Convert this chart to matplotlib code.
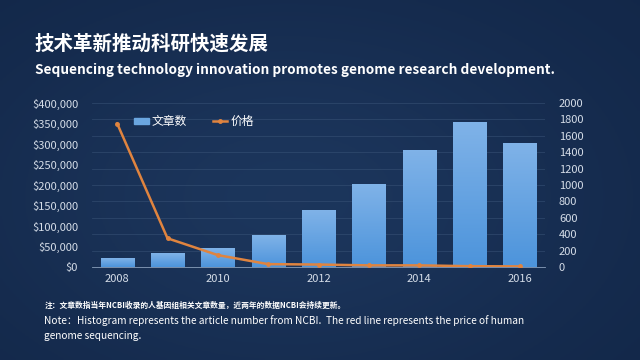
import numpy as np
import matplotlib.pyplot as plt
from matplotlib.ticker import FuncFormatter
from matplotlib.patches import Patch

plt.rcParams['font.family'] = ['Noto Sans CJK SC', 'DejaVu Sans']

years = ['2008', '2009', '2010', '2011', '2012', '2013', '2014', '2015', '2016']
articles = [105, 160, 220, 390, 695, 1010, 1420, 1760, 1510]
prices = [350000, 70000, 29000, 7000, 6000, 4000, 4000, 2000, 1500]
year_ticks = ['2008', '', '2010', '', '2012', '', '2014', '', '2016']

fig = plt.figure(figsize=(6.4, 3.6), dpi=100)

# background gradient
bg = fig.add_axes([0, 0, 1, 1])
gx, gy = np.meshgrid(np.linspace(0, 1, 200), np.linspace(0, 1, 120))
glow = np.exp(-((gx - 0.45) ** 2 / 0.25 + (gy - 0.55) ** 2 / 0.3))
img = np.zeros((120, 200, 3))
img[..., 0] = 0.07 + 0.04 * glow
img[..., 1] = 0.15 + 0.06 * glow
img[..., 2] = 0.28 + 0.08 * glow
bg.imshow(img, aspect='auto', extent=[0, 1, 0, 1])
bg.axis('off')

x = np.arange(len(years))

ax = fig.add_axes([92 / 640, 1 - 267 / 360, 453 / 640, 164 / 360])
ax2 = ax.twinx()
ax.set_zorder(ax2.get_zorder() + 1)
ax.patch.set_visible(False)

# bars with vertical gradient
for xi, v in zip(x, articles):
    grad = np.linspace(0, 1, 100).reshape(-1, 1)
    cimg = np.zeros((100, 1, 3))
    cimg[..., 0] = 0.30 + 0.20 * grad
    cimg[..., 1] = 0.58 + 0.12 * grad
    cimg[..., 2] = 0.86 + 0.05 * grad
    ax2.imshow(cimg, aspect='auto', origin='lower',
               extent=[xi - 0.33, xi + 0.33, 0, v], zorder=2)
bar_handle = ax2.bar(x, articles, width=0.66, color='none', zorder=3)

line_handle, = ax.plot(x, prices, color='#e0843f', lw=1.8, marker='o',
                       markersize=2.5, zorder=5)

ax.set_xlim(-0.5, len(years) - 0.5)
ax.set_ylim(0, 400000)
ax2.set_ylim(0, 2000)
ax.set_yticks(np.arange(0, 400001, 50000))
ax2.set_yticks(np.arange(0, 2001, 200))
ax.yaxis.set_major_formatter(FuncFormatter(lambda v, p: '${:,.0f}'.format(v)))
ax.set_xticks(x)
ax.set_xticklabels(year_ticks)

ax2.grid(axis='y', color='#3a5478', lw=0.6, alpha=0.6, zorder=0)
ax2.set_axisbelow(True)

for a in (ax, ax2):
    for s in a.spines.values():
        s.set_visible(False)
    a.tick_params(length=0, colors='#d5dde8', labelsize=8)
ax.spines['bottom'].set_visible(True)
ax.spines['bottom'].set_color('#8aa0bc')
ax.spines['bottom'].set_linewidth(0.6)
ax.tick_params(axis='y', pad=10)
ax2.tick_params(axis='y', pad=10)
ax.tick_params(axis='x', pad=5)

leg = ax.legend([Patch(color='#6aa6e0'), line_handle], ['文章数', '价格'],
                loc='upper left', bbox_to_anchor=(0.07, 0.99), ncol=2, frameon=False,
                fontsize=8.5, handlelength=1.2, handleheight=0.5, columnspacing=2.2,
                handletextpad=0.3)
for t in leg.get_texts():
    t.set_color('white')

fig.text(34 / 640, 1 - 44 / 360, '技术革新推动科研快速发展', color='white',
         fontsize=14, fontweight='bold', va='center')
fig.text(35 / 640, 1 - 70 / 360,
         'Sequencing technology innovation promotes genome research development.',
         color='white', fontsize=9.8, fontweight='bold', va='center')
fig.text(45 / 640, 1 - 305 / 360,
         '注：文章数指当年NCBI收录的人基因组相关文章数量，近两年的数据NCBI会持续更新。',
         color='white', fontsize=5.6, fontweight='bold', va='center')
fig.text(44 / 640, 1 - 321 / 360,
         'Note：Histogram represents the article number from NCBI.  The red line represents the price of human',
         color='white', fontsize=7.3, va='center')
fig.text(44 / 640, 1 - 336 / 360, 'genome sequencing.', color='white',
         fontsize=7.3, va='center')

fig.savefig('out.png', dpi=100)
